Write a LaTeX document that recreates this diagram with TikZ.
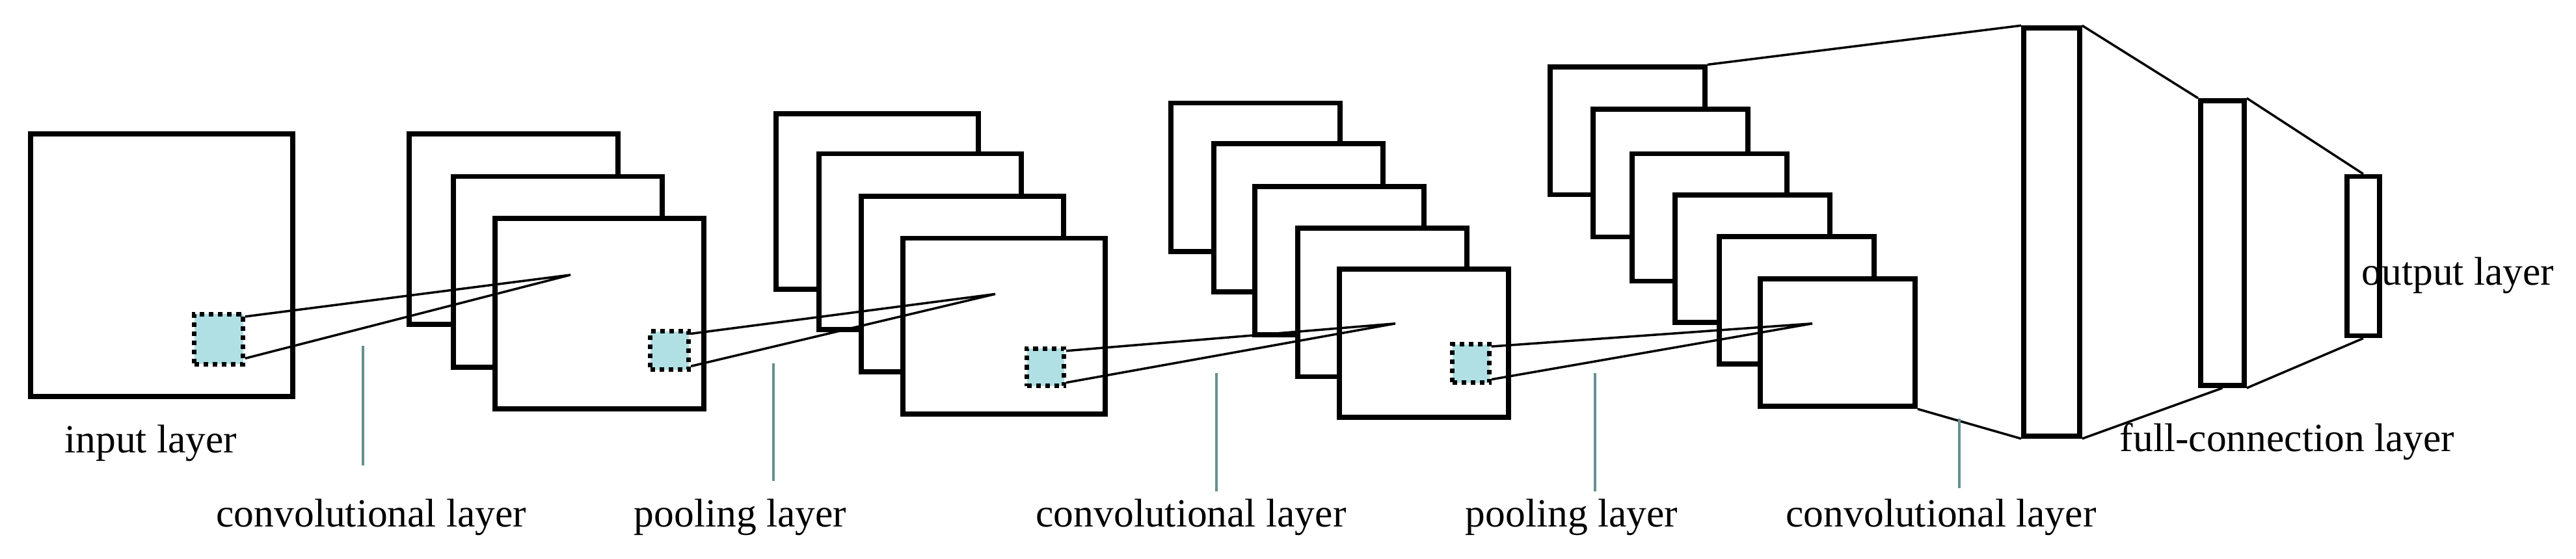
\documentclass[tikz,border=0pt]{standalone}
\usepackage{fontspec}
\setmainfont{Liberation Serif}
\begin{document}
\begin{tikzpicture}[x=0.01cm,y=-0.006128cm,
  box/.style={draw, line width=2.2pt, fill=white, anchor=north west, inner sep=0pt},
  patch/.style={draw, line width=2pt, dotted, fill=patchc, anchor=north west, inner sep=0pt},
  conn/.style={line width=1pt},
  tick/.style={line width=1.3pt, draw=tealc},
  lbl/.style={font=\fontsize{17.5pt}{20pt}\selectfont, anchor=base, inner sep=0pt}]
\definecolor{patchc}{RGB}{176,224,228}
\definecolor{tealc}{RGB}{100,145,145}
\useasboundingbox (0,0) rectangle (3960,1400);
% input
\node[box, minimum width=4.03cm, minimum height=4.04cm] (in) at (43,329) {};
% conv1
\foreach \i/\x/\y in {1/625/329,2/693/436,3/757/541}
  \node[box, minimum width=3.21cm, minimum height=2.93cm] (ca\i) at (\x,\y) {};
% pool1
\foreach \i/\x/\y in {1/1189/279,2/1255/379,3/1320/486,4/1384/591}
  \node[box, minimum width=3.11cm, minimum height=2.70cm] (pa\i) at (\x,\y) {};
% conv2
\foreach \i/\x/\y in {1/1796/252,2/1862/354,3/1925/461,4/1991/566,5/2055/668}
  \node[box, minimum width=2.60cm, minimum height=2.28cm] (cb\i) at (\x,\y) {};
% pool2
\foreach \i/\x/\y in {1/2379/162,2/2445/268,3/2505/379,4/2571/482,5/2639/587,6/2702/693}
  \node[box, minimum width=2.38cm, minimum height=1.96cm] (pb\i) at (\x,\y) {};
% fully connected
\node[box, minimum width=0.86cm, minimum height=6.275cm] (fc1) at (3107,64) {};
\node[box, minimum width=0.67cm, minimum height=4.38cm] (fc2) at (3379,246) {};
\node[box, minimum width=0.50cm, minimum height=2.45cm] (out) at (3604,436) {};
% patches
\node[patch, minimum width=0.75cm, minimum height=0.766cm] (p1) at (295,782) {};
\node[patch, minimum width=0.59cm, minimum height=0.588cm] (p2) at (996,825) {};
\node[patch, minimum width=0.57cm, minimum height=0.576cm] (p3) at (1575,868) {};
\node[patch, minimum width=0.57cm, minimum height=0.594cm] (p4) at (2229,857) {};
\coordinate (c1) at (877,689);
\coordinate (c2) at (1530,737);
\coordinate (c3) at (2145,811);
\coordinate (c4) at (2786,811);
\draw[conn] ([yshift=-2pt]p1.north east) -- (c1) -- ([yshift=3.5pt]p1.south east);
\draw[conn] ([yshift=-2pt]p2.north east) -- (c2) -- ([yshift=2.5pt]p2.south east);
\draw[conn] ([yshift=-2pt]p3.north east) -- (c3) -- ([yshift=2.5pt]p3.south east);
\draw[conn] ([yshift=-2pt]p4.north east) -- (c4) -- ([yshift=2.5pt]p4.south east);
% to fc
\draw[conn] (pb1.north east) -- (fc1.north west);
\draw[conn] (pb6.south east) -- (fc1.south west);
\draw[conn] (fc1.north east) -- (fc2.north west);
\draw[conn] (fc1.south east) -- (fc2.south);
\draw[conn] (fc2.north east) -- (out.north);
\draw[conn] (fc2.south east) -- (out.south);
% ticks
\coordinate (t1a) at (558,866); \coordinate (t1b) at (558,1166);
\coordinate (t2a) at (1189,911); \coordinate (t2b) at (1189,1205);
\coordinate (t3a) at (1870,936); \coordinate (t3b) at (1870,1232);
\coordinate (t4a) at (2452,936); \coordinate (t4b) at (2452,1232);
\coordinate (t5a) at (3012,1050); \coordinate (t5b) at (3012,1223);
\foreach \k in {1,...,5} \draw[tick] (t\k a) -- (t\k b);
% labels
\node[lbl] (l1) at (232,1134) {input layer};
\node[lbl] (l2) at (571,1321) {convolutional layer};
\node[lbl] (l3) at (1138,1321) {pooling layer};
\node[lbl] (l4) at (1831,1321) {convolutional layer};
\node[lbl] (l5) at (2416,1321) {pooling layer};
\node[lbl] (l6) at (2984,1321) {convolutional layer};
\node[lbl] (l7) at (3516,1132) {full-connection layer};
\node[lbl, anchor=base west] (l8) at (3630,714) {output layer};
\end{tikzpicture}
\end{document}
